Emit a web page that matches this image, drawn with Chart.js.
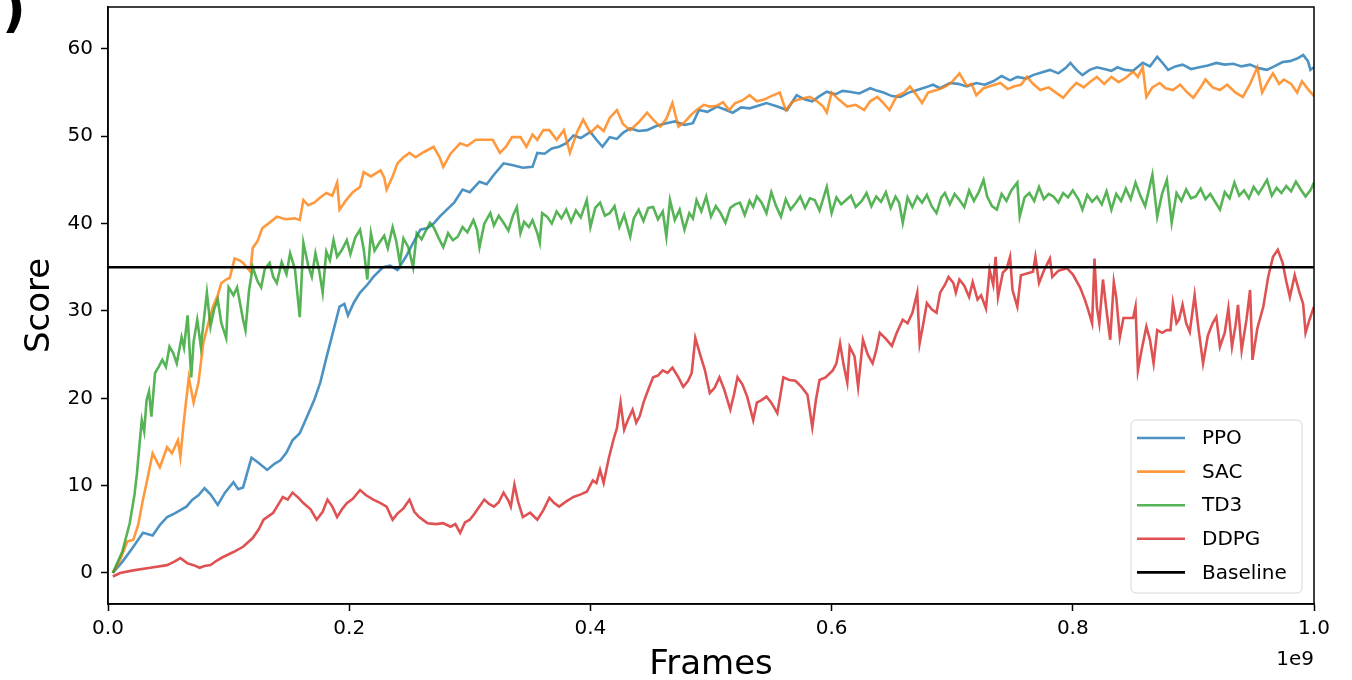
<!DOCTYPE html>
<html>
<head>
<meta charset="utf-8">
<script src="https://cdn.jsdelivr.net/npm/chart.js@4.4.1/dist/chart.umd.min.js"></script>
<style>
  html, body { margin: 0; padding: 0; background: #fff; }
  #wrap { width: 1352px; height: 680px; }
</style>
</head>
<body>
<div id="wrap"><canvas id="chart" width="1352" height="680"></canvas></div>
<script>
// ---- data (frames in units of 1e9) ----
const seriesNames = ['PPO', 'SAC', 'TD3', 'DDPG', 'Baseline'];
const yTicks = [0, 10, 20, 30, 40, 50, 60];
const xTicks = [0, 0.2, 0.4, 0.6, 0.8, 1.0];
const baselineScore = 35;

const ppoX = [
  0.004,0.012,0.02,0.029,0.037,0.043,0.049,0.055,0.06,0.065,
  0.07,0.075,0.08,0.085,0.091,0.097,0.104,0.108,0.112,0.119,
  0.125,0.132,0.138,0.143,0.148,0.153,0.159,0.165,0.171,0.176,
  0.181,0.187,0.192,0.196,0.199,0.204,0.209,0.215,0.22,0.228,
  0.234,0.24,0.247,0.253,0.259,0.265,0.27,0.275,0.281,0.287,
  0.294,0.3,0.308,0.314,0.32,0.328,0.335,0.344,0.352,0.356,
  0.362,0.368,0.374,0.38,0.386,0.392,0.4,0.405,0.41,0.416,
  0.422,0.427,0.433,0.44,0.447,0.455,0.463,0.47,0.478,0.485,
  0.49,0.497,0.505,0.511,0.518,0.525,0.532,0.539,0.546,0.555,
  0.563,0.571,0.578,0.584,0.59,0.596,0.603,0.609,0.615,0.623,
  0.632,0.638,0.643,0.65,0.657,0.664,0.671,0.678,0.684,0.69,
  0.698,0.705,0.712,0.72,0.727,0.734,0.741,0.748,0.754,0.761,
  0.767,0.774,0.781,0.788,0.794,0.798,0.803,0.808,0.814,0.82,
  0.826,0.832,0.837,0.843,0.85,0.858,0.864,0.87,0.875,0.879,
  0.885,0.891,0.898,0.905,0.912,0.919,0.926,0.933,0.94,0.947,
  0.954,0.961,0.967,0.974,0.98,0.986,0.991,0.995,0.997,1.0
];
const ppoY = [
  0,1.3,2.8,4.6,4.3,5.5,6.4,6.8,7.2,7.6,
  8.4,8.9,9.7,9.0,7.8,9.2,10.4,9.6,9.8,13.2,
  12.6,11.8,12.5,12.9,13.8,15.2,16.0,17.9,19.8,21.8,
  24.6,27.8,30.5,30.8,29.5,31.0,32.1,33.0,33.9,35.0,
  35.2,34.7,36.2,37.8,39.3,39.5,40.0,40.8,41.6,42.4,
  43.9,43.6,44.8,44.5,45.6,46.9,46.7,46.4,46.5,48.1,
  48.0,48.6,48.8,49.2,50.1,49.8,50.5,49.6,48.8,49.9,
  49.7,50.4,50.9,50.6,50.7,51.2,51.5,51.7,51.3,51.5,
  53.0,52.8,53.4,53.1,52.7,53.3,53.2,53.5,53.8,53.4,
  53.0,54.7,54.2,54.0,54.6,55.1,54.8,55.2,55.1,54.9,
  55.5,55.2,55.0,54.6,54.5,55.0,55.3,55.6,55.9,55.5,
  56.1,56.0,55.7,56.1,55.9,56.3,56.9,56.4,56.8,56.6,
  57.0,57.3,57.6,57.2,57.8,58.4,57.6,57.0,57.6,57.9,
  57.7,57.5,57.9,57.6,57.5,58.4,58.0,59.1,58.3,57.6,
  58.0,58.2,57.7,57.9,58.1,58.4,58.2,58.3,58.0,58.2,
  57.8,57.6,58.0,58.5,58.6,58.9,59.3,58.6,57.6,57.9
];

const sacX = [
  0.004,0.01,0.016,0.021,0.025,0.029,0.033,0.037,0.043,0.049,
  0.053,0.058,0.06,0.063,0.067,0.071,0.075,0.079,0.083,0.087,
  0.091,0.094,0.098,0.101,0.105,0.109,0.112,0.118,0.12,0.124,
  0.128,0.133,0.14,0.147,0.155,0.159,0.162,0.166,0.171,0.176,
  0.181,0.186,0.19,0.192,0.197,0.203,0.209,0.212,0.218,0.226,
  0.229,0.231,0.236,0.24,0.245,0.25,0.255,0.262,0.27,0.275,
  0.278,0.284,0.292,0.298,0.305,0.312,0.319,0.325,0.33,0.335,
  0.342,0.347,0.352,0.356,0.361,0.366,0.372,0.378,0.383,0.389,
  0.394,0.4,0.406,0.411,0.416,0.422,0.427,0.433,0.44,0.447,
  0.452,0.458,0.463,0.468,0.473,0.478,0.483,0.488,0.494,0.499,
  0.505,0.51,0.515,0.52,0.526,0.532,0.538,0.544,0.55,0.557,
  0.562,0.568,0.575,0.582,0.588,0.593,0.596,0.6,0.606,0.613,
  0.62,0.627,0.632,0.638,0.643,0.648,0.654,0.66,0.665,0.67,
  0.675,0.68,0.687,0.693,0.699,0.706,0.712,0.716,0.72,0.726,
  0.733,0.74,0.746,0.751,0.757,0.762,0.767,0.773,0.78,0.786,
  0.792,0.798,0.803,0.809,0.815,0.82,0.826,0.832,0.838,0.844,
  0.85,0.854,0.858,0.861,0.866,0.872,0.877,0.883,0.889,0.895,
  0.9,0.906,0.91,0.916,0.922,0.928,0.935,0.941,0.947,0.953,
  0.957,0.962,0.966,0.971,0.975,0.981,0.986,0.99,0.995,1.0
];
const sacY = [
  0,1.5,3.6,3.8,5.5,8.4,11.0,13.7,12.1,14.4,
  13.7,15.2,13.3,17.5,22.4,19.5,21.8,26.3,28.5,30.5,
  31.8,33.2,33.6,33.8,36.0,35.8,35.5,34.5,37.2,38.0,
  39.5,40.0,40.8,40.5,40.6,40.4,42.7,42.1,42.4,43.0,
  43.5,43.2,44.7,41.6,42.6,43.6,44.2,45.9,45.4,46.1,
  45.3,43.9,45.4,46.9,47.6,48.1,47.6,48.2,48.8,47.6,
  46.5,48.0,49.2,48.9,49.6,49.6,49.6,48.1,48.8,49.9,
  49.9,48.8,50.2,49.6,50.7,50.7,49.6,50.7,48.1,50.5,
  51.9,50.4,51.2,50.6,52.1,53.0,51.4,50.7,51.6,52.7,
  51.9,51.1,52.0,53.8,51.1,51.6,52.4,53.0,53.6,53.4,
  53.5,53.9,53.0,53.8,54.1,54.7,54.0,54.2,54.6,55.0,
  53.0,54.0,54.3,54.5,54.0,53.4,52.7,55.0,54.2,53.4,
  53.6,53.0,54.0,54.5,53.8,53.0,54.6,55.0,55.7,54.8,
  53.8,55.0,55.3,55.6,56.1,57.2,55.8,56.0,54.7,55.5,
  55.8,56.1,55.4,55.7,55.9,56.8,56.0,55.3,55.6,55.0,
  54.4,55.4,56.1,55.6,56.3,56.8,56.0,56.8,56.2,56.7,
  57.4,56.8,57.9,54.5,55.6,56.1,55.5,55.3,55.9,55.0,
  54.4,55.6,56.5,55.6,55.3,55.9,55.0,54.5,56.0,57.9,
  55.0,56.3,57.2,56.0,56.5,56.0,55.0,56.3,55.4,54.6
];

const td3X = [
  0.004,0.012,0.018,0.022,0.024,0.026,0.028,0.03,0.032,0.034,
  0.036,0.039,0.042,0.045,0.048,0.051,0.054,0.057,0.061,0.063,
  0.066,0.069,0.071,0.074,0.077,0.079,0.082,0.085,0.088,0.091,
  0.094,0.098,0.1,0.104,0.107,0.11,0.112,0.114,0.117,0.12,
  0.124,0.127,0.13,0.134,0.137,0.14,0.144,0.148,0.151,0.155,
  0.159,0.162,0.166,0.169,0.172,0.175,0.178,0.181,0.184,0.187,
  0.19,0.194,0.198,0.201,0.205,0.209,0.212,0.215,0.218,0.221,
  0.225,0.229,0.232,0.236,0.239,0.242,0.245,0.249,0.253,0.256,
  0.26,0.264,0.267,0.27,0.274,0.278,0.282,0.286,0.29,0.294,
  0.298,0.303,0.306,0.308,0.312,0.317,0.32,0.324,0.328,0.332,
  0.336,0.339,0.342,0.345,0.349,0.352,0.356,0.358,0.36,0.364,
  0.368,0.372,0.376,0.38,0.384,0.388,0.392,0.397,0.4,0.404,
  0.408,0.412,0.416,0.42,0.424,0.428,0.433,0.436,0.44,0.444,
  0.448,0.452,0.456,0.46,0.463,0.466,0.47,0.474,0.478,0.482,
  0.485,0.488,0.492,0.496,0.5,0.504,0.508,0.512,0.516,0.52,
  0.524,0.528,0.532,0.535,0.538,0.542,0.546,0.55,0.554,0.558,
  0.562,0.566,0.57,0.574,0.578,0.582,0.586,0.59,0.596,0.6,
  0.604,0.608,0.612,0.616,0.62,0.625,0.629,0.633,0.637,0.641,
  0.645,0.649,0.653,0.656,0.659,0.663,0.667,0.671,0.675,0.679,
  0.683,0.687,0.691,0.694,0.698,0.702,0.706,0.71,0.714,0.718,
  0.722,0.726,0.729,0.733,0.737,0.741,0.745,0.749,0.754,0.756,
  0.76,0.764,0.768,0.772,0.776,0.78,0.784,0.788,0.792,0.796,
  0.8,0.805,0.808,0.812,0.816,0.82,0.824,0.828,0.832,0.836,
  0.84,0.844,0.848,0.852,0.856,0.86,0.866,0.87,0.874,0.878,
  0.882,0.886,0.89,0.894,0.898,0.902,0.906,0.91,0.914,0.918,
  0.922,0.926,0.93,0.934,0.938,0.942,0.946,0.95,0.954,0.958,
  0.961,0.965,0.969,0.973,0.977,0.981,0.985,0.989,0.993,0.997,
  1.0
];
const td3Y = [
  0,2.5,5.7,9.0,11.4,14.5,17.5,16.2,19.8,20.8,
  17.9,22.9,23.6,24.4,23.6,25.9,25.2,24.0,27.0,25.8,
  29.5,22.4,26.5,29.0,25.9,28.4,32.1,28.2,30.2,31.3,
  28.6,26.9,32.7,31.8,32.7,30.5,29.0,27.8,32.4,35.0,
  33.4,32.7,34.8,35.5,33.9,33.2,35.6,34.2,36.6,34.8,
  29.3,37.8,35.2,33.9,36.6,34.7,32.1,36.8,35.8,38.1,
  36.2,37.0,38.1,36.5,38.4,39.3,37.1,33.6,38.9,36.9,
  37.8,38.6,37.2,39.6,38.0,35.5,38.3,37.3,35.0,38.9,
  38.2,39.3,40.1,39.6,38.4,37.3,38.9,38.1,38.5,39.6,
  39.0,40.4,39.3,37.3,40.0,41.2,39.8,40.9,40.1,39.2,
  41.0,41.9,38.9,40.2,39.6,40.4,38.9,37.8,41.2,40.8,
  40.0,41.4,40.6,41.6,40.2,41.5,40.7,42.7,39.6,41.8,
  42.4,40.9,41.2,42.0,39.6,41.0,38.5,40.6,41.6,40.3,
  41.8,41.9,40.5,41.4,38.5,42.7,40.4,41.6,39.3,41.2,
  40.6,42.7,41.4,43.1,40.8,42.0,41.2,40.1,41.8,42.2,
  42.4,41.0,42.6,41.9,43.1,42.4,41.2,43.6,42.0,40.8,
  42.8,41.6,42.3,43.1,41.8,42.9,42.7,41.5,44.2,41.2,
  43.0,42.2,42.7,43.2,41.9,42.6,43.5,42.0,43.1,42.5,
  43.6,41.8,43.1,42.4,40.1,43.0,41.9,43.1,42.4,43.3,
  42.0,41.2,43.0,43.5,42.2,43.4,42.7,41.9,43.8,42.6,
  43.6,45.0,43.1,42.0,41.6,43.4,42.6,43.8,44.7,40.8,
  43.0,43.5,42.6,44.2,42.8,43.4,43.1,42.4,43.5,43.0,
  43.8,42.7,41.6,43.3,42.5,43.1,42.2,43.7,41.6,43.4,
  42.6,44.0,42.8,44.7,43.2,42.0,45.6,40.8,43.4,45.0,
  40.1,43.5,42.6,43.9,42.9,43.1,44.0,42.8,43.4,42.5,
  41.6,43.6,42.9,44.7,43.2,43.8,42.9,44.2,43.4,44.3,
  45.0,43.2,44.1,43.5,44.3,43.7,44.8,43.9,43.1,43.8,
  44.7
];

const ddpgX = [
  0.004,0.01,0.021,0.035,0.049,0.055,0.06,0.066,0.071,0.076,
  0.08,0.085,0.09,0.095,0.104,0.112,0.12,0.125,0.129,0.137,
  0.141,0.145,0.149,0.153,0.158,0.162,0.168,0.173,0.178,0.182,
  0.186,0.19,0.194,0.198,0.203,0.209,0.214,0.22,0.226,0.231,
  0.236,0.24,0.245,0.25,0.254,0.258,0.262,0.265,0.272,0.278,
  0.284,0.288,0.292,0.296,0.3,0.304,0.308,0.312,0.316,0.32,
  0.324,0.328,0.332,0.334,0.337,0.34,0.344,0.35,0.356,0.361,
  0.366,0.37,0.374,0.38,0.386,0.392,0.397,0.402,0.405,0.408,
  0.411,0.415,0.419,0.422,0.425,0.428,0.431,0.435,0.438,0.441,
  0.444,0.448,0.452,0.456,0.46,0.464,0.468,0.473,0.477,0.481,
  0.484,0.487,0.491,0.495,0.499,0.503,0.507,0.511,0.516,0.519,
  0.522,0.526,0.53,0.535,0.538,0.542,0.546,0.55,0.555,0.56,
  0.565,0.57,0.575,0.58,0.584,0.587,0.59,0.595,0.601,0.604,
  0.607,0.61,0.613,0.615,0.619,0.622,0.626,0.63,0.634,0.637,
  0.64,0.645,0.65,0.654,0.659,0.663,0.667,0.671,0.673,0.676,
  0.679,0.683,0.687,0.69,0.694,0.697,0.701,0.703,0.706,0.71,
  0.714,0.717,0.721,0.724,0.728,0.731,0.734,0.736,0.738,0.742,
  0.745,0.748,0.75,0.754,0.757,0.762,0.767,0.769,0.772,0.776,
  0.781,0.783,0.788,0.795,0.8,0.806,0.81,0.813,0.816,0.818,
  0.82,0.822,0.825,0.828,0.831,0.834,0.836,0.839,0.842,0.85,
  0.852,0.854,0.857,0.861,0.864,0.867,0.87,0.874,0.878,0.881,
  0.883,0.886,0.888,0.891,0.894,0.897,0.901,0.904,0.908,0.912,
  0.916,0.919,0.922,0.926,0.929,0.932,0.935,0.937,0.94,0.944,
  0.947,0.949,0.953,0.958,0.962,0.966,0.97,0.974,0.977,0.98,
  0.984,0.988,0.991,0.993,0.996,1.0
];
const ddpgY = [
  -0.4,0,0.3,0.6,0.9,1.3,1.7,1.1,0.9,0.6,
  0.8,0.9,1.4,1.8,2.4,3.0,4.0,5.0,6.1,6.9,
  7.8,8.7,8.4,9.2,8.6,8.0,7.3,6.1,7.0,8.4,
  7.6,6.4,7.3,8.0,8.5,9.5,8.9,8.4,8.0,7.6,
  6.1,6.8,7.4,8.4,7.0,6.4,6.0,5.7,5.6,5.7,
  5.3,5.6,4.6,5.8,6.1,6.8,7.6,8.4,7.9,7.6,
  8.1,9.2,8.3,7.6,10.1,8.2,6.4,6.9,6.1,7.2,
  8.6,8.0,7.6,8.2,8.7,9.0,9.3,10.6,10.3,11.8,
  10.3,13.0,15.2,16.6,19.5,16.4,17.5,18.7,17.2,18.0,
  19.5,21.0,22.4,22.6,23.2,22.9,23.5,22.4,21.3,22.0,
  22.9,26.9,25.0,23.2,20.6,21.2,22.4,21.0,18.7,20.4,
  22.4,21.6,20.2,17.5,19.5,19.8,20.2,19.5,18.3,22.4,
  22.1,22.0,21.3,20.4,16.7,19.8,22.1,22.4,23.2,24.0,
  26.3,23.8,21.8,25.9,24.8,21.3,26.7,25.0,24.0,25.5,
  27.5,26.8,26.0,27.5,29.0,28.6,29.8,32.1,26.3,28.5,
  30.9,30.2,29.8,32.1,33.0,33.9,33.2,32.1,33.6,32.9,
  31.6,33.3,31.3,31.8,30.3,34.7,33.0,36.2,31.6,34.4,
  34.8,36.2,32.4,30.5,34.1,34.3,34.5,36.2,33.2,34.6,
  36.0,33.9,34.6,34.9,34.2,32.7,31.3,30.0,28.6,36.0,
  30.4,28.6,33.6,30.0,26.7,33.3,31.6,27.0,29.2,29.2,
  30.5,23.2,25.5,28.2,26.7,24.0,27.8,27.5,27.8,27.8,
  30.9,28.6,29.0,30.7,28.6,27.6,31.8,28.2,24.0,27.2,
  28.6,29.3,25.9,27.5,30.3,25.9,28.4,30.7,25.5,29.0,
  32.4,24.4,28.0,30.5,33.9,36.2,37.0,35.5,33.4,31.6,
  34.1,32.1,30.8,27.5,28.9,30.5
];

// ---- helpers ----
function toPoints(xs, ys) {
  return xs.map((x, i) => ({ x: x, y: ys[i] }));
}

const lineColors = [
  'rgba(31,119,180,0.8)',
  'rgba(255,127,14,0.8)',
  'rgba(44,160,44,0.8)',
  'rgba(214,39,40,0.8)',
  '#000000'
];

const FONT = "'DejaVu Sans', 'Liberation Sans', sans-serif";

function lineDataset(i, points) {
  return {
    label: seriesNames[i],
    data: points,
    borderColor: lineColors[i],
    backgroundColor: lineColors[i],
    borderWidth: 2.6,
    pointRadius: 0,
    tension: 0,
    fill: false,
    order: 5 - i // later series drawn on top, as in the original
  };
}

const datasets = [
  lineDataset(0, toPoints(ppoX, ppoY)),
  lineDataset(1, toPoints(sacX, sacY)),
  lineDataset(2, toPoints(td3X, td3Y)),
  lineDataset(3, toPoints(ddpgX, ddpgY)),
  lineDataset(4, toPoints([xTicks[0], xTicks[xTicks.length - 1]], [baselineScore, baselineScore]))
];

// frame box, legend, offset label, panel letter
const extrasPlugin = {
  id: 'extras',
  afterDraw(chart) {
    const ctx = chart.ctx;
    const a = chart.chartArea;
    ctx.save();

    // axes frame
    ctx.strokeStyle = '#000';
    ctx.lineWidth = 1.5;
    ctx.strokeRect(a.left, a.top, a.right - a.left, a.bottom - a.top);

    // legend (lower right, inside the plot)
    const lx = 1131, ly = 420, lw = 171, lh = 173, r = 5;
    ctx.beginPath();
    ctx.moveTo(lx + r, ly);
    ctx.arcTo(lx + lw, ly, lx + lw, ly + lh, r);
    ctx.arcTo(lx + lw, ly + lh, lx, ly + lh, r);
    ctx.arcTo(lx, ly + lh, lx, ly, r);
    ctx.arcTo(lx, ly, lx + lw, ly, r);
    ctx.closePath();
    ctx.fillStyle = 'rgba(255,255,255,0.8)';
    ctx.fill();
    ctx.strokeStyle = '#d6d6d6';
    ctx.lineWidth = 1;
    ctx.stroke();

    ctx.font = '20px ' + FONT;
    ctx.textBaseline = 'middle';
    ctx.textAlign = 'left';
    chart.data.datasets.forEach((ds, i) => {
      const y = 438 + i * 33.6;
      ctx.strokeStyle = ds.borderColor;
      ctx.lineWidth = 2.6;
      ctx.beginPath();
      ctx.moveTo(1137, y);
      ctx.lineTo(1185, y);
      ctx.stroke();
      ctx.fillStyle = '#000';
      ctx.fillText(ds.label, 1202, y + 1);
    });

    // x offset text
    ctx.textAlign = 'right';
    ctx.textBaseline = 'alphabetic';
    ctx.font = '20px ' + FONT;
    ctx.fillText('1e9', 1314, 665);

    // clipped panel letter in the corner
    ctx.textAlign = 'left';
    ctx.font = 'bold 52px ' + FONT;
    ctx.fillText(')', 2, 26);

    ctx.restore();
  }
};

const chart = new Chart(document.getElementById('chart'), {
  type: 'line',
  data: { datasets: datasets },
  options: {
    responsive: false,
    animation: false,
    events: [],
    layout: { padding: { top: 7, right: 38, left: 0, bottom: 0 } },
    plugins: {
      legend: { display: false },
      tooltip: { enabled: false },
      title: { display: false }
    },
    scales: {
      x: {
        type: 'linear',
        min: 0,
        max: 1,
        afterFit(scale) {
          scale.height = 76;
          scale.paddingLeft = 0;
          scale.paddingRight = 0;
        },
        afterBuildTicks(scale) { scale.ticks = xTicks.map(v => ({ value: v })); },
        grid: { drawOnChartArea: false, drawTicks: true, tickLength: 7, tickWidth: 1.5, tickColor: '#000' },
        border: { display: true, color: '#000', width: 1.5 },
        ticks: {
          color: '#000',
          font: { family: FONT, size: 20 },
          padding: 6,
          maxRotation: 0,
          callback: v => Number(v).toFixed(1)
        },
        title: {
          display: true,
          text: 'Frames',
          color: '#000',
          font: { family: FONT, size: 34, lineHeight: 0.9 },
          padding: { top: 0, bottom: 0 }
        }
      },
      y: {
        type: 'linear',
        min: -3.55,
        max: 64.8,
        afterFit(scale) {
          scale.width = 108;
          scale.paddingTop = 0;
          scale.paddingBottom = 0;
        },
        afterBuildTicks(scale) { scale.ticks = yTicks.map(v => ({ value: v })); },
        grid: { drawOnChartArea: false, drawTicks: true, tickLength: 7, tickWidth: 1.5, tickColor: '#000' },
        border: { display: true, color: '#000', width: 1.5 },
        ticks: {
          color: '#000',
          font: { family: FONT, size: 20 },
          padding: 8,
          callback: v => String(v)
        },
        title: {
          display: true,
          text: 'Score',
          color: '#000',
          font: { family: FONT, size: 34, lineHeight: 1.2 },
          padding: { top: 20, bottom: 0 }
        }
      }
    }
  },
  plugins: [extrasPlugin]
});
</script>
</body>
</html>
